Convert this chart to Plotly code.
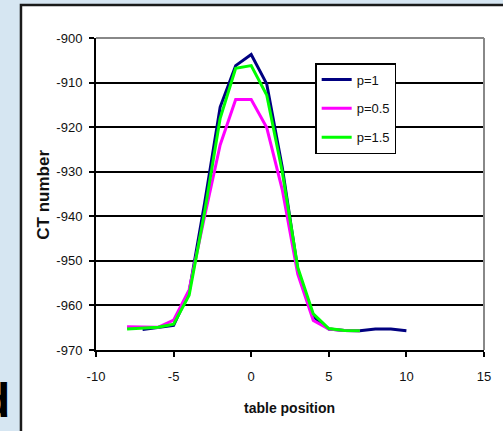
import plotly.graph_objects as go

x_p1 = [-7, -6, -5, -4, -3, -2, -1, 0, 1, 2, 3, 4, 5, 6, 7, 8, 9, 10]
y_p1 = [-965.4, -965.0, -964.5, -957.0, -937.0, -915.5, -906.2, -903.7, -910.3,
        -929.0, -952.0, -962.5, -965.3, -965.6, -965.7, -965.3, -965.3, -965.7]

x_p05 = [-8, -7, -6, -5, -4, -3, -2, -1, 0, 1, 2, 3, 4, 5, 6, 7]
y_p05 = [-964.8, -964.9, -964.9, -963.3, -956.5, -940.0, -924.0, -913.8, -913.8,
         -920.1, -934.0, -953.0, -963.4, -965.3, -965.6, -965.7]

x_p15 = [-8, -7, -6, -5, -4, -3, -2, -1, 0, 1, 2, 3, 4, 5, 6, 7]
y_p15 = [-965.3, -965.1, -964.9, -964.2, -957.7, -939.0, -918.0, -906.8, -906.2,
         -912.8, -930.0, -951.5, -961.9, -965.2, -965.6, -965.7]

series_names = ["p=1", "p=0.5", "p=1.5"]
series_colors = ["#000080", "#FF00FF", "#00FF00"]

x_ticks = [-10, -5, 0, 5, 10, 15]
x_ticklabels = ["-10", "-5", "0", "5", "10", "15"]
y_ticks = [-970, -960, -950, -940, -930, -920, -910, -900]
y_ticklabels = ["-970", "-960", "-950", "-940", "-930", "-920", "-910", "-900"]

FONT = "Liberation Sans, Arial, sans-serif"

fig = go.Figure()
for xs, ys, name, col in zip([x_p1, x_p05, x_p15], [y_p1, y_p05, y_p15],
                             series_names, series_colors):
    fig.add_trace(go.Scatter(x=xs, y=ys, mode="lines", name=name,
                             legendgroup=name,
                             line=dict(color=col, width=3)))

# geometry helpers (pixel -> paper)
L, R, T, B = 96, 14, 38, 81
W, H = 503, 431
PW, PH = W - L - R, H - T - B
def px(xp):
    return (xp - L) / PW
def py(yp):
    return (H - B - yp) / PH

fig.update_layout(
    width=W, height=H,
    margin=dict(l=L, r=R, t=T, b=B, pad=0),
    paper_bgcolor="#d6e6f2",
    plot_bgcolor="white",
    font=dict(family=FONT, size=13, color="#111"),
    showlegend=True,
    legend=dict(x=px(318), y=py(63), xanchor="left", yanchor="top",
                bgcolor="white", bordercolor="black", borderwidth=1.5,
                font=dict(family=FONT, size=13, color="#111"),
                tracegroupgap=9, traceorder="grouped",
                itemwidth=30),
    xaxis=dict(range=[-10, 15], tickvals=x_ticks, ticktext=x_ticklabels,
               ticks="outside", ticklen=5,
               tickcolor="black", tickwidth=1.5, showgrid=False, zeroline=False,
               showline=True, linecolor="black", linewidth=2,
               tickfont=dict(family=FONT, size=13, color="#111"),
               ticklabelstandoff=8),
    yaxis=dict(range=[-970, -900], tickvals=y_ticks, ticktext=y_ticklabels,
               ticks="outside", ticklen=5,
               tickcolor="black", tickwidth=1.5, showgrid=True, gridcolor="black",
               gridwidth=1.5, zeroline=False,
               showline=True, linecolor="black", linewidth=2,
               tickfont=dict(family=FONT, size=13, color="#111"),
               ticklabelstandoff=4),
    shapes=[
        dict(type="rect", xref="paper", yref="paper",
             x0=px(20), x1=px(530), y0=py(460), y1=py(5),
             fillcolor="white", line=dict(color="#1a1a1a", width=2.5),
             layer="below"),
        dict(type="line", xref="paper", yref="paper", x0=0, x1=1, y0=1, y1=1,
             line=dict(color="#888888", width=2)),
        dict(type="line", xref="paper", yref="paper", x0=1, x1=1, y0=0, y1=1,
             line=dict(color="#888888", width=2)),
    ],
    annotations=[
        dict(text="<b>table position</b>", xref="paper", yref="paper",
             x=px(292), y=py(408), xanchor="center", yanchor="middle",
             showarrow=False, font=dict(family=FONT, size=14, color="#111")),
        dict(text="<b>CT number</b>", xref="paper", yref="paper",
             x=px(42), y=py(195), xanchor="center", yanchor="middle",
             textangle=-90, showarrow=False,
             font=dict(family=FONT, size=17, color="#111")),
        dict(text="<b>d</b>", xref="paper", yref="paper",
             x=px(11), y=py(400), xanchor="right", yanchor="middle",
             showarrow=False, font=dict(family=FONT, size=48, color="black")),
    ],
)

fig.write_html("out.html")
